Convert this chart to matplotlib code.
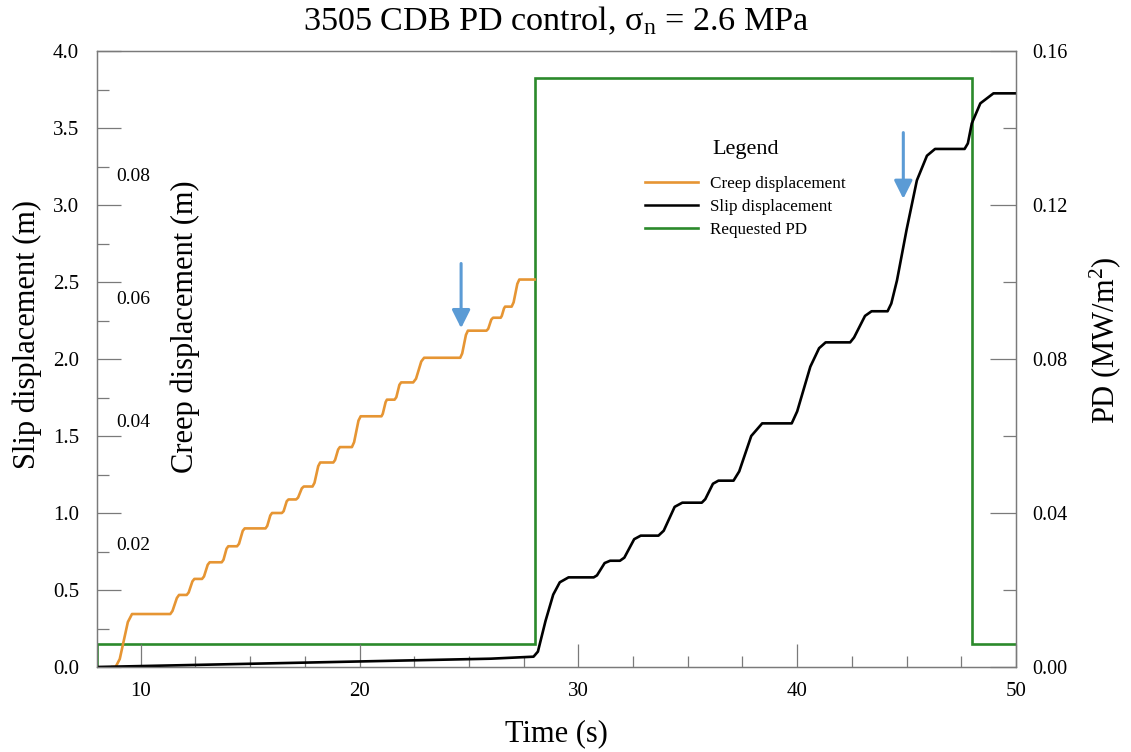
import matplotlib
matplotlib.use("Agg")
import matplotlib.pyplot as plt
from matplotlib.ticker import MultipleLocator, FormatStrFormatter, FixedLocator, NullLocator
from matplotlib.lines import Line2D

plt.rcParams["font.family"] = ["Liberation Serif", "DejaVu Serif"]
plt.rcParams["mathtext.fontset"] = "custom"
plt.rcParams["mathtext.rm"] = "Liberation Serif"
plt.rcParams["mathtext.it"] = "Liberation Serif:italic"
plt.rcParams["mathtext.bf"] = "Liberation Serif:bold"

# ---- measured series ----
# slip displacement (m) versus time (s)
slip_time = [8.0, 10.0, 14.0, 18.0, 22.0, 26.0, 27.95,
             28.15, 28.5, 28.85, 29.15, 29.55,
             30.7, 30.85, 31.2, 31.45,
             31.9, 32.1, 32.55, 32.85,
             33.66, 33.9, 34.4, 34.75,
             35.64, 35.8, 36.15, 36.4,
             37.09, 37.35, 37.9, 38.4,
             39.75, 40.0, 40.6, 41.0, 41.3,
             42.42, 42.6, 43.1, 43.4,
             44.13, 44.3, 44.56, 45.0, 45.47, 45.93, 46.3,
             47.65, 47.8, 47.98, 48.37, 48.97, 50.0]
slip_disp = [0.0, 0.006, 0.018, 0.030, 0.042, 0.054, 0.067,
             0.10, 0.30, 0.47, 0.55, 0.582,
             0.582, 0.595, 0.675, 0.69,
             0.69, 0.71, 0.83, 0.853,
             0.853, 0.885, 1.04, 1.067,
             1.067, 1.09, 1.19, 1.21,
             1.21, 1.27, 1.50, 1.582,
             1.582, 1.66, 1.95, 2.07, 2.108,
             2.108, 2.14, 2.28, 2.31,
             2.31, 2.36, 2.51, 2.84, 3.16, 3.32, 3.364,
             3.364, 3.40, 3.53, 3.66, 3.725, 3.725]

# creep displacement (m) versus time (s)
creep_time = [8.7, 8.85, 9.04, 9.41, 9.6,
              11.35, 11.45, 11.65, 11.75,
              12.1, 12.19, 12.36, 12.45,
              12.8, 12.89, 13.06, 13.15,
              13.7, 13.78, 13.92, 14.0,
              14.4, 14.49, 14.66, 14.75,
              15.7, 15.78, 15.92, 16.0,
              16.45, 16.53, 16.67, 16.75,
              17.1, 17.19, 17.36, 17.45,
              17.85, 17.94, 18.11, 18.2,
              18.8, 18.88, 19.02, 19.1,
              19.65, 19.75, 19.95, 20.05,
              21.0, 21.06, 21.19, 21.25,
              21.6, 21.68, 21.82, 21.9,
              22.45, 22.58, 22.82, 22.95,
              24.6, 24.69, 24.86, 24.95,
              25.8, 25.88, 26.02, 26.1,
              26.45, 26.5, 26.6, 26.65,
              26.95, 27.04, 27.21, 27.3,
              28.0]
creep_disp = [0.0, 0.0, 0.0013, 0.0073, 0.0086,
              0.0086, 0.0091, 0.0112, 0.0117,
              0.0117, 0.0121, 0.0139, 0.0143,
              0.0143, 0.0147, 0.0166, 0.0170,
              0.0170, 0.0174, 0.0192, 0.0196,
              0.0196, 0.0200, 0.0221, 0.0225,
              0.0225, 0.0229, 0.0246, 0.0250,
              0.0250, 0.0253, 0.0269, 0.0272,
              0.0272, 0.0275, 0.0290, 0.0293,
              0.0293, 0.0299, 0.0326, 0.0332,
              0.0332, 0.0336, 0.0353, 0.0357,
              0.0357, 0.0365, 0.0400, 0.0407,
              0.0407, 0.0411, 0.0430, 0.0434,
              0.0434, 0.0438, 0.0458, 0.0462,
              0.0462, 0.0468, 0.0496, 0.0502,
              0.0502, 0.0509, 0.0539, 0.0546,
              0.0546, 0.0549, 0.0564, 0.0567,
              0.0567, 0.0570, 0.0582, 0.0585,
              0.0585, 0.0592, 0.0622, 0.0629,
              0.0629]

# requested power density (MW/m^2)
pd_time = [8.0, 8.0, 28.0, 28.0, 48.0, 48.0, 50.0]
pd_req = [0.0, 0.006, 0.006, 0.153, 0.153, 0.006, 0.006]

# marker arrows (time, top, tip) in slip units
arrow_time = [24.64, 44.85]
arrow_top = [2.62, 3.47]
arrow_tip = [2.20, 3.04]

# axis ticks
x_major = [10, 20, 30, 40, 50]
slip_ticks = [0.0, 0.5, 1.0, 1.5, 2.0, 2.5, 3.0, 3.5, 4.0]
creep_ticks = [0.02, 0.04, 0.06, 0.08]
pd_ticks = [0.00, 0.04, 0.08, 0.12, 0.16]

C_CREEP = "#E69533"
C_SLIP = "#000000"
C_PD = "#2B8A2B"
C_ARROW = "#5B9BD5"
C_AXIS = "#7a7a7a"

fig = plt.figure(figsize=(11.31, 7.52), dpi=100)
ax = fig.add_axes([97 / 1131, 85 / 752, 919 / 1131, 616 / 752])
ax_pd = ax.twinx()
ax_cr = ax.twinx()

ax_pd.set_zorder(1)
ax_cr.set_zorder(2)
ax.set_zorder(3)
ax.patch.set_visible(False)
ax_cr.patch.set_visible(False)

# lines
ax_pd.plot(pd_time, pd_req, color=C_PD, lw=1.9, solid_joinstyle="miter")
ax_cr.plot(creep_time, creep_disp, color=C_CREEP, lw=1.9, solid_joinstyle="round")
ax.plot(slip_time, slip_disp, color=C_SLIP, lw=1.9, solid_joinstyle="round")

for t, y0, y1 in zip(arrow_time, arrow_top, arrow_tip):
    ax.annotate("", xy=(t, y1), xytext=(t, y0),
                arrowprops=dict(arrowstyle="-|>,head_length=1.1,head_width=0.55",
                                color=C_ARROW, lw=2.2, shrinkA=0, shrinkB=0,
                                mutation_scale=10))

# limits
ax.set_xlim(8, 50)
ax.set_ylim(0, 4.0)
ax_pd.set_ylim(0, 0.16)
ax_cr.set_ylim(0, 0.1)

# spines
for a in (ax, ax_pd, ax_cr):
    for s in a.spines.values():
        s.set_color(C_AXIS)
        s.set_linewidth(0.9)
for s in ax_cr.spines.values():
    s.set_visible(False)

# slip / time ticks
ax.xaxis.set_major_locator(FixedLocator(x_major))
ax.xaxis.set_minor_locator(MultipleLocator(2.5))
ax.yaxis.set_major_locator(FixedLocator(slip_ticks))
ax.yaxis.set_minor_locator(MultipleLocator(0.25))
ax.yaxis.set_major_formatter(FormatStrFormatter("%.1f"))
ax.tick_params(axis="x", which="major", direction="in", length=16.5, width=0.9,
               color=C_AXIS, labelsize=15, pad=11, top=False)
ax.tick_params(axis="x", which="minor", direction="in", length=8, width=0.9,
               color=C_AXIS, top=False)
ax.tick_params(axis="y", which="major", direction="in", length=17, width=0.9,
               color=C_AXIS, labelsize=15, pad=13, right=False)
ax.tick_params(axis="y", which="minor", direction="in", length=8.5, width=0.9,
               color=C_AXIS, right=False)

# PD ticks on the right
ax_pd.yaxis.set_major_locator(FixedLocator(pd_ticks))
ax_pd.yaxis.set_minor_locator(MultipleLocator(0.02))
ax_pd.yaxis.set_major_formatter(FormatStrFormatter("%.2f"))
ax_pd.tick_params(axis="y", which="major", direction="in", length=18.5, width=0.9,
                  color=C_AXIS, labelsize=14.5, pad=12)
ax_pd.tick_params(axis="y", which="minor", direction="in", length=9.5, width=0.9,
                  color=C_AXIS)

# creep scale: labels only, sitting inside the left spine
ax_cr.yaxis.tick_left()
ax_cr.yaxis.set_label_position("left")
ax_cr.yaxis.set_major_locator(FixedLocator(creep_ticks))
ax_cr.yaxis.set_minor_locator(NullLocator())
ax_cr.yaxis.set_major_formatter(FormatStrFormatter("%.2f"))
ax_cr.tick_params(axis="y", which="major", length=0, labelsize=14, pad=-13.7)
for lab in ax_cr.get_yticklabels():
    lab.set_horizontalalignment("left")

# axis labels
ax.set_xlabel("Time (s)", fontsize=22)
ax.xaxis.set_label_coords(0.5, -0.084)
ax.set_ylabel("Slip displacement (m)", fontsize=22)
ax.yaxis.set_label_coords(-0.060, 0.539)
ax_cr.set_ylabel("Creep displacement (m)", fontsize=22)
ax_cr.yaxis.set_label_coords(0.112, 0.553)
ax_pd.set_ylabel("PD (MW/m$^{\\mathrm{2}}$)", fontsize=22)
ax_pd.yaxis.set_label_coords(1.078, 0.531)

ax.set_title("3505 CDB PD control, \u03c3$_{\\mathrm{n}}$ = 2.6 MPa", fontsize=24.6, pad=15)

# legend
handles = [Line2D([], [], color=C_CREEP, lw=1.9),
           Line2D([], [], color=C_SLIP, lw=1.8),
           Line2D([], [], color=C_PD, lw=1.9)]
labels = ["Creep displacement", "Slip displacement", "Requested PD"]
leg = ax.legend(handles, labels, title="Legend", loc="upper left",
                bbox_to_anchor=(0.5963, 0.855), frameon=False, fontsize=12.3,
                title_fontsize=16, handlelength=3.1, handletextpad=0.72,
                labelspacing=0.42, borderpad=0, borderaxespad=0)
leg._legend_box.sep = 12

fig.savefig("out.png", dpi=100)
